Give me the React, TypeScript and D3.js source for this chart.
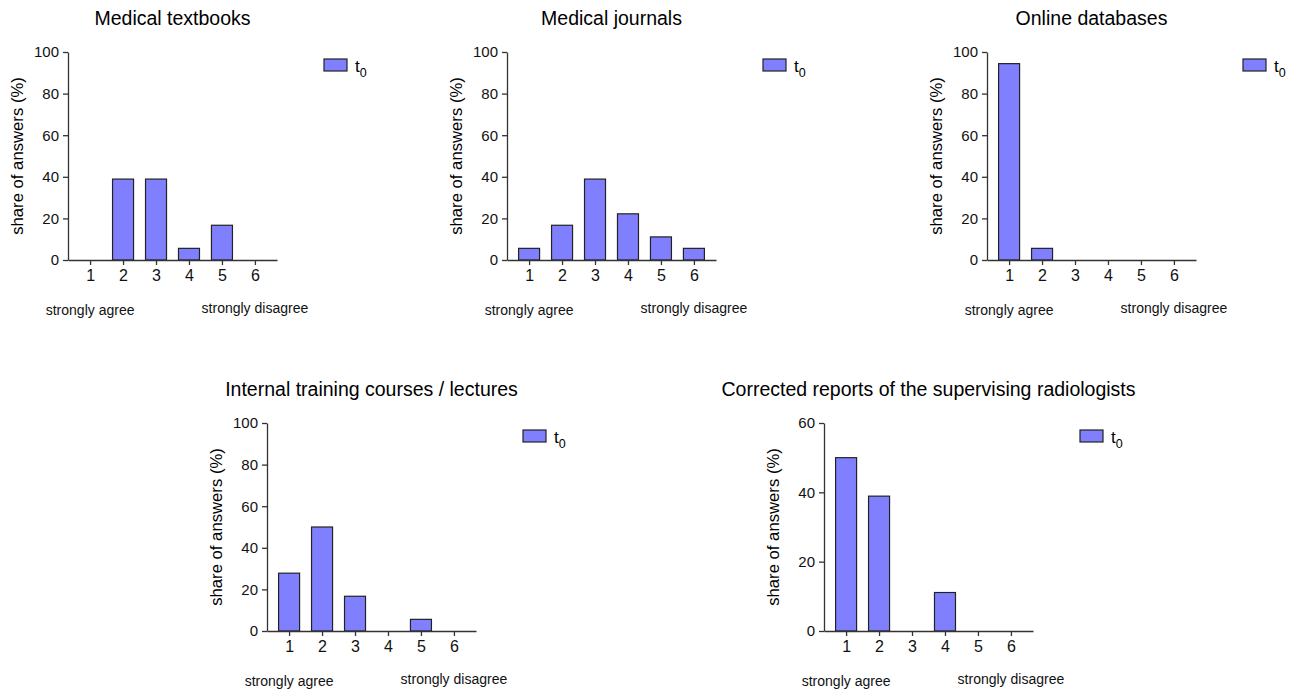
import React, { useEffect, useRef } from "react";
import * as d3 from "d3";

// answer categories (1 = strongly agree ... 6 = strongly disagree)
const categories = [1, 2, 3, 4, 5, 6];

const titles = [
  "Medical textbooks",
  "Medical journals",
  "Online databases",
  "Internal training courses / lectures",
  "Corrected reports of the supervising radiologists",
];

// share of answers (%) at t0
const textbooks = [0, 38.9, 38.9, 5.6, 16.7, 0];
const journals = [5.6, 16.7, 38.9, 22.2, 11.1, 5.6];
const databases = [94.4, 5.6, 0, 0, 0, 0];
const courses = [27.8, 50, 16.7, 0, 5.6, 0];
const reports = [50, 38.9, 0, 11.1, 0, 0];

const ticks100 = [0, 20, 40, 60, 80, 100];
const ticks60 = [0, 20, 40, 60];

const seriesName = "t";
const seriesSub = "0";

const FONT = "Liberation Sans, Arial, Helvetica, sans-serif";

export default function App() {
  const ref = useRef<SVGSVGElement>(null);

  useEffect(() => {
    const svg = d3.select(ref.current);
    svg.selectAll("*").remove();

    const panels = [
      { x: 68, y: 52, values: textbooks, max: 100, ticks: ticks100 },
      { x: 507, y: 52, values: journals, max: 100, ticks: ticks100 },
      { x: 987, y: 52, values: databases, max: 100, ticks: ticks100 },
      { x: 267, y: 423, values: courses, max: 100, ticks: ticks100 },
      { x: 824, y: 423, values: reports, max: 60, ticks: ticks60 },
    ];

    const width = 209;
    const height = 208;
    const barWidth = 21;
    const axisColor = "#333";

    panels.forEach((p, i) => {
      const g = svg.append("g").attr("transform", `translate(${p.x},${p.y})`);

      const xScale = d3.scaleLinear().domain([0.33, 6.67]).range([0, width]);
      const yScale = d3.scaleLinear().domain([0, p.max]).range([height, 0]);

      // bars
      g.selectAll("rect.bar")
        .data(categories.map((c, k) => ({ c, v: p.values[k] })).filter((d) => d.v > 0))
        .join("rect")
        .attr("class", "bar")
        .attr("x", (d) => xScale(d.c) - barWidth / 2)
        .attr("y", (d) => yScale(d.v))
        .attr("width", barWidth)
        .attr("height", (d) => height - yScale(d.v))
        .attr("fill", "#8080ff")
        .attr("stroke", "#222")
        .attr("stroke-width", 1.2);

      // y axis
      const yAxis = g
        .append("g")
        .call(d3.axisLeft(yScale).tickValues(p.ticks).tickSize(5).tickPadding(4).tickSizeOuter(0));
      yAxis.select(".domain").attr("stroke", axisColor).attr("stroke-width", 1.3);
      yAxis.selectAll("line").attr("stroke", axisColor).attr("stroke-width", 1.3);
      yAxis.selectAll("text").style("font-size", "15px").style("font-family", FONT).attr("fill", "#111");

      // x axis
      const xAxis = g
        .append("g")
        .attr("transform", `translate(0,${height})`)
        .call(d3.axisBottom(xScale).tickValues(categories).tickFormat(d3.format("d")).tickSize(5).tickPadding(5).tickSizeOuter(0));
      xAxis.select(".domain").attr("stroke", axisColor).attr("stroke-width", 1.3);
      xAxis.selectAll("line").attr("stroke", axisColor).attr("stroke-width", 1.3);
      xAxis.selectAll("text").style("font-size", "16px").style("font-family", FONT).attr("fill", "#111");

      // title
      g.append("text")
        .attr("x", width / 2)
        .attr("y", -27)
        .attr("text-anchor", "middle")
        .style("font-size", "19.5px")
        .style("font-family", FONT)
        .attr("fill", "#000")
        .text(titles[i]);

      // y axis title
      g.append("text")
        .attr("transform", `translate(-45,${height / 2}) rotate(-90)`)
        .attr("text-anchor", "middle")
        .style("font-size", "16.7px")
        .style("font-family", FONT)
        .attr("fill", "#000")
        .text("share of answers (%)");

      // scale end labels
      g.append("text")
        .attr("x", xScale(1))
        .attr("y", height + 55)
        .attr("text-anchor", "middle")
        .style("font-size", "14px")
        .style("font-family", FONT)
        .attr("fill", "#111")
        .text("strongly agree");
      g.append("text")
        .attr("x", xScale(6))
        .attr("y", height + 53)
        .attr("text-anchor", "middle")
        .style("font-size", "14px")
        .style("font-family", FONT)
        .attr("fill", "#111")
        .text("strongly disagree");

      // legend
      g.append("rect")
        .attr("x", 256)
        .attr("y", 7)
        .attr("width", 23)
        .attr("height", 12)
        .attr("fill", "#8080ff")
        .attr("stroke", "#222")
        .attr("stroke-width", 1.2);
      const lt = g.append("text")
        .attr("x", 287)
        .attr("y", 20)
        .style("font-size", "17px")
        .style("font-family", FONT)
        .attr("fill", "#000");
      lt.append("tspan").text(seriesName);
      lt.append("tspan").attr("dy", 5).style("font-size", "12.5px").text(seriesSub);
    });
  }, []);

  return (
    <svg
      ref={ref}
      width={1303}
      height={693}
      style={{ position: "absolute", left: 0, top: 0, background: "#fff" }}
    />
  );
}
